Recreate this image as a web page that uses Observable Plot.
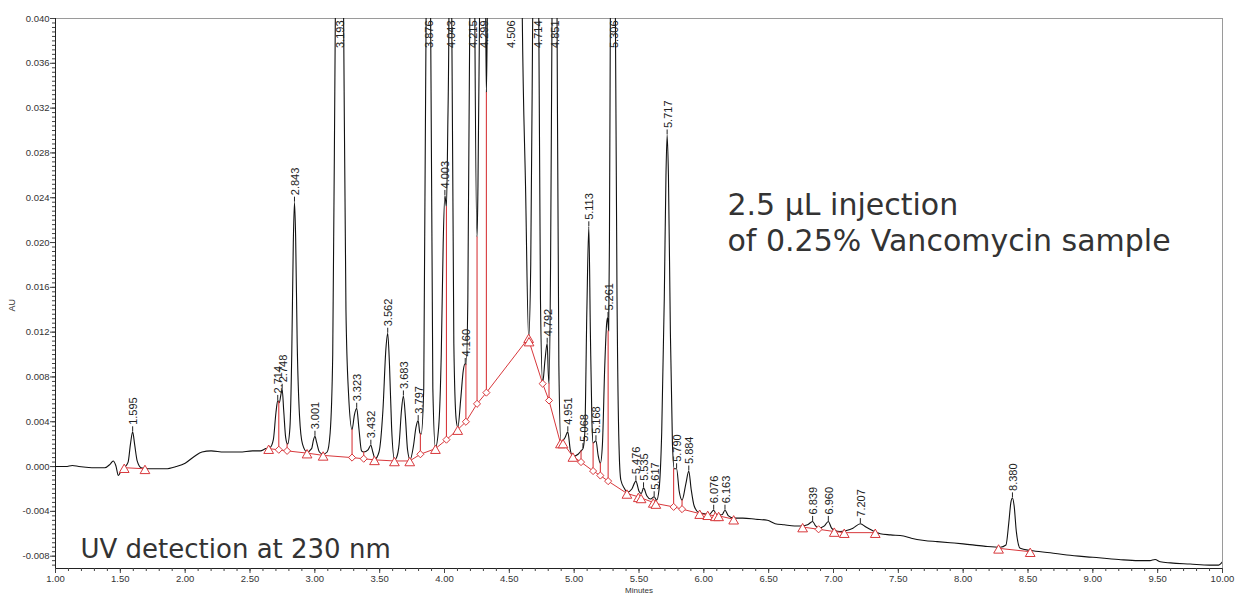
<!DOCTYPE html>
<html><head><meta charset="utf-8">
<script src="https://cdn.jsdelivr.net/npm/d3@7"></script>
<script src="https://cdn.jsdelivr.net/npm/@observablehq/plot@0.6"></script>
<style>body{margin:0;background:#fff;} #chart svg{display:block}</style>
</head><body><div id="chart"></div>
<script>
// ---- scales / ticks ----
const xDomain = [1, 10];
const yDomain = [-0.0091, 0.040];
const xMajorTicks = [1, 1.5, 2, 2.5, 3, 3.5, 4, 4.5, 5, 5.5, 6, 6.5, 7, 7.5, 8, 8.5, 9, 9.5, 10];
const yMajorTicks = [-0.008, -0.004, 0, 0.004, 0.008, 0.012, 0.016, 0.020, 0.024, 0.028, 0.032, 0.036, 0.040];
const xMinorTicks = d3.range(0, 91).map(i => 1 + i * 0.1);
const yMinorTicks = d3.range(0, 123).map(i => -0.0088 + i * 0.0004);

// ---- chromatogram trace (minutes, AU) ----
const traceTime = [1.00,1.08,1.13,1.18,1.28,1.38,1.42,1.445,1.465,1.485,1.505,1.53,1.56,1.578,1.595,1.61,1.63,1.66,1.72,1.85,1.93,2.00,2.07,2.13,2.20,2.30,2.42,2.52,2.58,2.62,2.655,2.68,2.70,2.714,2.726,2.738,2.748,2.76,2.775,2.79,2.808,2.822,2.834,2.843,2.852,2.864,2.882,2.905,2.94,2.975,2.99,3.001,3.013,3.035,3.064,3.095,3.118,3.138,3.158,3.193,3.222,3.24,3.26,3.287,3.305,3.323,3.34,3.36,3.377,3.41,3.432,3.447,3.465,3.495,3.525,3.548,3.562,3.576,3.592,3.615,3.63,3.65,3.668,3.683,3.698,3.715,3.735,3.76,3.78,3.797,3.81,3.82,3.84,3.858,3.876,3.893,3.91,3.93,3.955,3.975,3.99,4.003,4.015,4.025,4.034,4.043,4.056,4.072,4.09,4.103,4.125,4.145,4.160,4.167,4.18,4.195,4.215,4.234,4.251,4.258,4.270,4.299,4.318,4.323,4.330,4.345,4.506,4.585,4.600,4.625,4.649,4.665,4.680,4.714,4.727,4.740,4.757,4.775,4.792,4.800,4.806,4.818,4.829,4.851,4.868,4.882,4.898,4.93,4.951,4.97,4.99,5.03,5.053,5.068,5.082,5.098,5.113,5.125,5.137,5.146,5.168,5.185,5.202,5.218,5.236,5.250,5.258,5.266,5.272,5.279,5.306,5.318,5.333,5.348,5.36,5.39,5.407,5.445,5.476,5.50,5.518,5.535,5.56,5.59,5.617,5.636,5.655,5.675,5.695,5.708,5.717,5.727,5.742,5.758,5.772,5.790,5.81,5.832,5.862,5.884,5.902,5.925,5.96,6.00,6.04,6.076,6.10,6.14,6.163,6.19,6.23,6.30,6.40,6.49,6.55,6.62,6.70,6.76,6.80,6.839,6.862,6.885,6.93,6.960,6.985,7.01,7.05,7.10,7.15,7.207,7.25,7.30,7.36,7.44,7.54,7.60,7.70,7.80,7.90,8.00,8.16,8.286,8.33,8.352,8.368,8.380,8.393,8.41,8.44,8.52,8.672,8.80,9.00,9.20,9.35,9.44,9.48,9.52,9.60,9.75,9.90,9.97,10.00];
const traceAU = [0.0000,0.0000,0.0001,0.0000,-0.0001,-0.0001,0.0002,0.0005,0.0001,-0.0008,-0.0004,-0.0001,0.0004,0.0020,0.0031,0.0020,0.0005,-0.0001,-0.0002,-0.0002,0.0000,0.0003,0.0009,0.0013,0.0014,0.0013,0.0013,0.0014,0.0014,0.0016,0.0017,0.0024,0.0048,0.0059,0.0057,0.0064,0.0069,0.0050,0.0026,0.0020,0.0035,0.0100,0.0200,0.0236,0.0205,0.0110,0.0045,0.0020,0.0013,0.0016,0.0024,0.0027,0.0022,0.0013,0.0011,0.0013,0.0030,0.0100,0.0400,0.0850,0.0400,0.0140,0.0065,0.0033,0.0046,0.0052,0.0034,0.0014,0.0013,0.0015,0.0019,0.0013,0.0007,0.0013,0.0050,0.0105,0.0119,0.0090,0.0035,0.0006,0.0008,0.0020,0.0050,0.0063,0.0045,0.0015,0.0006,0.0018,0.0035,0.0041,0.0030,0.0029,0.0070,0.0400,0.1000,0.0400,0.0070,0.0017,0.0035,0.0100,0.0200,0.0242,0.0232,0.0300,0.0400,0.0900,0.0400,0.0110,0.0042,0.0035,0.0060,0.0086,0.0092,0.0091,0.0150,0.0400,0.1000,0.0400,0.0205,0.0250,0.0400,0.0900,0.0400,0.0334,0.0400,0.0600,0.2500,0.0600,0.0400,0.0250,0.0115,0.0180,0.0400,0.1000,0.0400,0.0150,0.0075,0.0095,0.0110,0.0085,0.0074,0.0180,0.0400,0.0900,0.0400,0.0090,0.0022,0.0026,0.0031,0.0015,0.0009,0.0011,0.0014,0.0016,0.0030,0.0140,0.0214,0.0120,0.0040,0.0021,0.0023,0.0010,0.0003,0.0020,0.0090,0.0127,0.0133,0.0121,0.0200,0.0400,0.1000,0.0400,0.0120,0.0010,-0.0012,-0.0020,-0.0023,-0.0020,-0.0013,-0.0022,-0.0024,-0.0019,-0.0026,-0.0029,-0.0027,-0.0030,-0.0020,0.0030,0.0150,0.0260,0.0296,0.0260,0.0120,0.0020,-0.0002,-0.0002,-0.0022,-0.0030,-0.0015,-0.0004,-0.0020,-0.0035,-0.0041,-0.0042,-0.0043,-0.0039,-0.0043,-0.0043,-0.0039,-0.0044,-0.0046,-0.0046,-0.0047,-0.0048,-0.0051,-0.0052,-0.0053,-0.0053,-0.0052,-0.0049,-0.0053,-0.0055,-0.0053,-0.0049,-0.0055,-0.0057,-0.0058,-0.0057,-0.0055,-0.0051,-0.0054,-0.0057,-0.0060,-0.0061,-0.0062,-0.0064,-0.0066,-0.0067,-0.0068,-0.0069,-0.0071,-0.0072,-0.0070,-0.0050,-0.0032,-0.0028,-0.0035,-0.0058,-0.0073,-0.0075,-0.0077,-0.0079,-0.0081,-0.0083,-0.0084,-0.0084,-0.0083,-0.0085,-0.0086,-0.0087,-0.0088,-0.0088,-0.0085];

// ---- integration baseline (red) ----
const baseSegment = ["a","a","b","b","b","b","b","b","b","b","b","b","b","b","b","b","b","b","b","b","b","b","b","b","b","b","b","b","b","b","b","b","b","b","b","b","b","b","b","b","b","b","c","c","c","c","c","d","d"];
const baseTime = [1.53,1.69,2.644,2.722,2.786,2.94,3.064,3.287,3.377,3.46,3.614,3.732,3.814,3.93,4.015,4.102,4.165,4.251,4.323,4.649,4.652,4.757,4.806,4.894,4.914,4.99,5.053,5.146,5.202,5.262,5.407,5.495,5.516,5.61,5.63,5.767,5.832,5.968,6.03,6.089,6.114,6.23,6.762,6.885,7.006,7.083,7.322,8.273,8.517];
const baseAU = [-0.0001,-0.0002,0.0016,0.0015,0.0014,0.0012,0.0010,0.0008,0.0007,0.0006,0.0005,0.0005,0.0011,0.0016,0.0024,0.0033,0.0040,0.0056,0.0066,0.0115,0.0112,0.0074,0.0059,0.0021,0.0021,0.0009,0.0004,-0.0004,-0.0008,-0.0013,-0.0024,-0.0027,-0.0028,-0.0032,-0.0033,-0.0036,-0.0038,-0.0042,-0.0043,-0.0044,-0.0044,-0.0047,-0.0054,-0.0056,-0.0058,-0.0059,-0.0059,-0.0073,-0.0076];
const baseMarker = ["tri","tri","tri","dia","dia","tri","tri","dia","dia","tri","tri","tri","dia","tri","dia","tri","dia","dia","dia","tri","tri","dia","dia","tri","tri","tri","dia","dia","dia","dia","tri","tri","tri","tri","tri","dia","dia","tri","tri","tri","tri","tri","tri","dia","tri","tri","tri","tri","tri"];

// ---- drop lines (time, baseline AU, valley AU) ----
const dropTime = [2.722,2.786,3.287,3.377,3.814,4.015,4.165,4.251,4.323,4.757,4.806,5.053,5.146,5.202,5.262,5.767,5.832,6.885];
const dropFrom = [0.0015,0.0014,0.0008,0.0007,0.0011,0.0024,0.0040,0.0056,0.0066,0.0074,0.0059,0.0004,-0.0004,-0.0008,-0.0013,-0.0036,-0.0038,-0.0056];
const dropTo = [0.0058,0.0020,0.0033,0.0013,0.0029,0.0232,0.0091,0.0205,0.0334,0.0075,0.0074,0.0014,0.0021,0.0003,0.0121,-0.0002,-0.0030,-0.0055];

// ---- peak labels ----
const peakTime = [1.595,2.714,2.748,2.843,3.001,3.323,3.432,3.562,3.683,3.797,4.003,4.160,4.792,4.951,5.068,5.113,5.168,5.261,5.476,5.535,5.617,5.717,5.790,5.884,6.076,6.163,6.839,6.960,7.207,8.380];
const peakAU = [0.0031,0.0059,0.0069,0.0236,0.0027,0.0052,0.0019,0.0119,0.0063,0.0041,0.0242,0.0092,0.0110,0.0031,0.0016,0.0214,0.0023,0.0133,-0.0013,-0.0019,-0.0027,0.0296,-0.0002,-0.0004,-0.0039,-0.0039,-0.0049,-0.0049,-0.0051,-0.0028];
const offScaleTime = [3.193,3.876,4.043,4.215,4.299,4.506,4.714,4.851,5.306];

const trace = traceTime.map((t, i) => ({t, v: traceAU[i]}));
const base = baseTime.map((t, i) => ({t, v: baseAU[i], seg: baseSegment[i], m: baseMarker[i]}));
const drops = dropTime.map((t, i) => ({t, v1: dropFrom[i], v2: dropTo[i]}));
const peaks = peakTime.map((t, i) => ({t, v: peakAU[i], label: t.toFixed(3)}));
const tops = offScaleTime.map(t => ({t, label: t.toFixed(3)}));

const red = "#d8383c";
const font = "Liberation Sans, Arial, sans-serif";

const chart = Plot.plot({
  width: 1235, height: 613,
  marginLeft: 55, marginRight: 13, marginTop: 18, marginBottom: 45,
  style: {fontFamily: font, background: "#fff"},
  x: {domain: xDomain},
  y: {domain: yDomain},
  marks: [
    Plot.frame({stroke: "#9a9a9a"}),
    Plot.ruleX([xDomain[0]], {stroke: "#222"}),
    Plot.ruleY([yDomain[0]], {stroke: "#222"}),
    Plot.axisY(yMajorTicks, {tickSize: 5, tickFormat: d => d.toFixed(3), fontSize: 9.5, fill: "#333", stroke: "#444", label: null, tickPadding: 1}),
    Plot.axisY(yMinorTicks, {tickSize: 3, tickFormat: () => "", stroke: "#444", label: null}),
    Plot.axisX(xMajorTicks, {tickSize: 5, tickFormat: d => d.toFixed(2), fontSize: 9.5, fill: "#333", stroke: "#444", label: null, tickPadding: 2}),
    Plot.axisX(xMinorTicks, {tickSize: 3, tickFormat: () => "", stroke: "#444", label: null}),
    Plot.text(["AU"], {text: d => d, frameAnchor: "left", dx: -43, dy: 18, rotate: -90, fontSize: 9, fill: "#333"}),
    Plot.text(["Minutes"], {text: d => d, frameAnchor: "bottom", dy: 24, fontSize: 8, fill: "#333"}),
    Plot.line(trace, {x: "t", y: "v", stroke: "#111", strokeWidth: 1.1, curve: "monotone-x", clip: true}),
    Plot.line(base, {x: "t", y: "v", z: "seg", stroke: red, strokeWidth: 1}),
    Plot.ruleX(drops, {x: "t", y1: "v1", y2: "v2", stroke: red, strokeWidth: 1.1}),
    Plot.dot(base.filter(d => d.m === "tri"), {x: "t", y: "v", symbol: "triangle", r: 3.6, stroke: red, fill: "white", strokeWidth: 1, dy: 2}),
    Plot.dot(base.filter(d => d.m === "dia"), {x: "t", y: "v", symbol: "diamond2", r: 3.2, stroke: red, fill: "white", strokeWidth: 1}),
    Plot.ruleX(peaks, {x: "t", y1: "v", y2: d => d.v + 0.00045, stroke: "#222", strokeWidth: 1}),
    Plot.text(peaks, {x: "t", y: "v", text: "label", rotate: -90, textAnchor: "start", dy: -7, dx: 1, fontSize: 11, fill: "#222"}),
    Plot.text(tops, {x: "t", y: () => yDomain[1], text: "label", rotate: -90, textAnchor: "end", dy: 2, dx: 1, fontSize: 11, fill: "#222"}),
    Plot.text(["2.5 µL injection\nof 0.25% Vancomycin sample"], {text: d => d, frameAnchor: "top-left", textAnchor: "start", lineAnchor: "top", dx: 672, dy: 172, fontSize: 30, lineHeight: 1.17, fontFamily: "DejaVu Sans", fill: "#333"}),
    Plot.text(["UV detection at 230 nm"], {text: d => d, frameAnchor: "top-left", textAnchor: "start", lineAnchor: "top", dx: 25, dy: 521, fontSize: 26, fontFamily: "DejaVu Sans", fill: "#333"})
  ]
});
document.getElementById("chart").appendChild(chart);
</script>
</body></html>
